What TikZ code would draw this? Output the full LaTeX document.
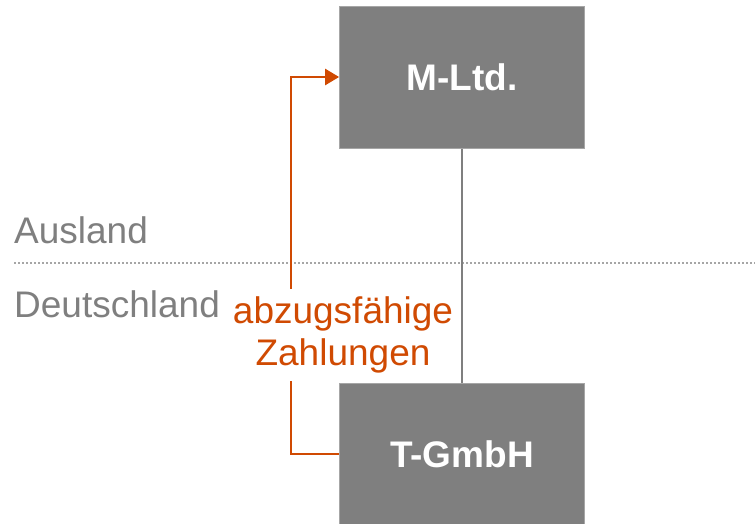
\documentclass[tikz,border=0pt]{standalone}
\usepackage{fontspec}
\setmainfont{Liberation Sans}
\usetikzlibrary{arrows.meta}
\definecolor{boxgray}{HTML}{7F7F7F}
\definecolor{edgegray}{HTML}{A6A6A6}
\definecolor{txtgray}{HTML}{7F7F7F}
\definecolor{pwcorange}{HTML}{D04A02}
\begin{document}
\begin{tikzpicture}[x=1pt,y=-1pt,
  entity/.style={rectangle, fill=boxgray, draw=edgegray, line width=0.8pt, minimum width=245pt, minimum height=142pt, text=white, font=\fontsize{37}{42}\selectfont\bfseries},
  region/.style={anchor=base west, text=txtgray, inner sep=0pt, font=\fontsize{37}{42}\selectfont},
  border/.style={draw=edgegray, line width=1.5pt, dash pattern=on 2pt off 2pt},
  link/.style={draw=boxgray, line width=2pt},
  flow/.style={draw=pwcorange, line width=2.5pt, -{Triangle[length=14pt,width=16pt]}},
  flowlabel/.style={fill=white, text=pwcorange, align=center, inner xsep=4pt, inner ysep=7.5pt, font=\fontsize{37}{42}\selectfont}]
\useasboundingbox (0,0) rectangle (755,523);
\coordinate (bl) at (14,263);
\coordinate (br) at (755,263);
\draw[border] (bl) -- (br);
\node[region] (aus) at (14,243) {Ausland};
\node[region] (de) at (14,317) {Deutschland};
\node[entity] (m) at (462,77) {M-Ltd.};
\node[entity] (t) at (462,454) {T-GmbH};
\draw[link] (m.south) -- (t.north);
\draw[flow] (t.west) -- ++(-48,0) |- (m.west);
\node[flowlabel] (lab) at (343,335) {abzugsfähige\\Zahlungen};
\node[entity] at (m) {M-Ltd.};
\node[entity] at (t) {T-GmbH};
\end{tikzpicture}
\end{document}
